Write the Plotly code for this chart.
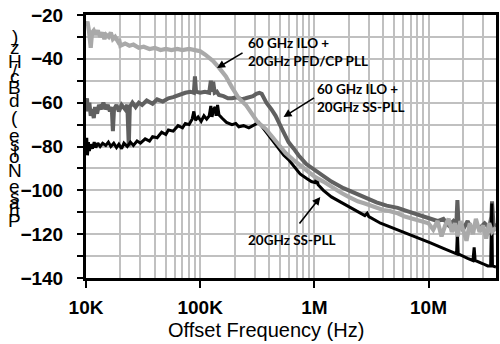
import plotly.graph_objects as go

# ---- data ----
freq_cp = [1.0e4, 1.03e4, 1.06e4, 1.08e4, 1.1e4, 1.13e4, 1.17e4, 1.22e4, 1.27e4, 1.33e4, 1.4e4, 1.45e4,
           1.5e4, 1.58e4, 1.65e4, 1.72e4, 1.8e4, 1.9e4, 1.95e4, 2.0e4, 2.2e4, 2.4e4, 2.6e4, 2.9e4, 3.2e4,
           3.6e4, 4e4, 4.5e4, 5e4, 5.6e4, 6.3e4, 7e4, 8e4, 9e4, 1.0e5, 1.1e5, 1.2e5, 1.3e5, 1.46e5, 1.68e5,
           1.9e5, 2.18e5, 2.51e5, 2.8e5, 3.2e5, 3.75e5, 4.2e5, 4.8e5, 5.6e5, 6.5e5, 7.3e5, 8.3e5, 9.4e5,
           1.02e6, 1.2e6, 1.41e6, 1.7e6, 2.0e6, 2.4e6, 2.77e6, 3.3e6, 4e6, 4.6e6, 5.37e6, 6.2e6, 7.2e6,
           8.5e6, 1.0e7, 1.1e7, 1.2e7, 1.3e7, 1.4e7, 1.5e7, 1.6e7, 1.7e7, 1.8e7, 1.9e7, 2.0e7, 2.15e7,
           2.3e7, 2.45e7, 2.6e7, 2.8e7, 3.0e7, 3.2e7, 3.4e7, 3.6e7, 3.9e7]
pn_cp = [-25, -23, -27, -34, -35, -28, -27, -29, -27, -30, -28, -31,
         -29, -30, -28, -31, -30, -32, -31, -34, -33, -34, -33.5, -35, -34.5,
         -35.5, -35, -36, -35.5, -36, -35.5, -36, -35.5, -36, -36.5, -38, -39.5, -41, -44, -48,
         -53, -58, -61, -65, -69, -72, -75, -79, -83, -86, -88, -90, -92,
         -94, -96, -98.5, -101, -103, -105, -106, -107.5, -109, -109.5, -110.5, -112, -113,
         -114, -115, -118, -114, -121, -116, -113, -119, -115, -121, -114, -118, -123,
         -115, -120, -113, -119, -116, -122, -115, -119, -117]

freq_ilo_ss = [1.0e4, 1.02e4, 1.04e4, 1.07e4, 1.1e4, 1.13e4, 1.17e4, 1.2e4, 1.25e4, 1.3e4, 1.36e4, 1.42e4,
               1.48e4, 1.55e4, 1.62e4, 1.68e4, 1.72e4, 1.76e4, 1.85e4, 1.94e4, 2.05e4, 2.2e4, 2.3e4, 2.37e4,
               2.42e4, 2.55e4, 2.72e4, 2.9e4, 3.1e4, 3.4e4, 3.83e4, 4.2e4, 4.7e4, 5.27e4, 5.8e4, 6.4e4,
               7.41e4, 8.2e4, 8.8e4, 9.0e4, 9.2e4, 1.0e5, 1.1e5, 1.2e5, 1.24e5, 1.27e5, 1.3e5, 1.34e5, 1.4e5,
               1.46e5, 1.6e5, 1.75e5, 1.9e5, 2.1e5, 2.3e5, 2.5e5, 2.67e5, 2.9e5, 3.1e5, 3.3e5, 3.46e5,
               3.8e5, 4.2e5, 4.58e5, 5.2e5, 5.94e5, 6.6e5, 7.26e5, 8.5e5, 1.02e6, 1.2e6, 1.41e6, 1.8e6,
               2.2e6, 2.77e6, 3.5e6, 4.3e6, 5.37e6, 6.5e6, 8e6, 1.04e7, 1.2e7, 1.35e7, 1.5e7, 1.65e7,
               1.75e7, 1.79e7, 1.83e7, 2.0e7, 2.2e7, 2.4e7, 2.6e7, 2.83e7, 3.1e7, 3.4e7, 3.55e7, 3.6e7,
               3.7e7, 3.9e7]
pn_ilo_ss = [-62, -58, -64, -60, -66, -63, -67, -62, -65, -61, -63, -60,
             -63, -61, -64, -62, -73, -63, -61, -64, -61, -63, -61, -80,
             -62, -60, -62, -60, -61, -59, -60.5, -58.5, -59.5, -58, -57.5, -56.5,
             -55.5, -55, -55.5, -48, -55, -55.5, -55, -55.5, -50, -55, -50.5, -55.5, -55,
             -56.5, -57, -58, -58, -57.5, -58.5, -58, -57.5, -57, -56, -55.5, -56,
             -60, -63, -66, -72, -78, -81, -84, -88, -91, -93.5, -96, -99,
             -101, -103, -105.5, -107, -108, -109.5, -111, -112.5, -114, -113, -116, -114,
             -116, -104.5, -115, -118, -114, -118, -116, -117, -115, -117, -112, -105,
             -115, -117]

freq_ss = [1.0e4, 1.015e4, 1.03e4, 1.05e4, 1.07e4, 1.1e4, 1.14e4, 1.18e4, 1.22e4, 1.27e4, 1.33e4, 1.4e4,
           1.49e4, 1.57e4, 1.65e4, 1.75e4, 1.85e4, 1.94e4, 2.05e4, 2.15e4, 2.3e4, 2.45e4, 2.6e4, 2.8e4,
           3.0e4, 3.3e4, 3.6e4, 3.83e4, 4.2e4, 4.6e4, 5.0e4, 5.27e4, 5.8e4, 6.4e4, 7.0e4, 7.41e4, 8.0e4,
           8.5e4, 8.8e4, 9.1e4, 9.6e4, 1.02e5, 1.08e5, 1.14e5, 1.2e5, 1.24e5, 1.27e5, 1.31e5, 1.35e5,
           1.38e5, 1.42e5, 1.46e5, 1.55e5, 1.7e5, 1.9e5, 2.05e5, 2.18e5, 2.4e5, 2.67e5, 2.9e5, 3.1e5,
           3.26e5, 3.6e5, 3.98e5, 4.4e5, 4.87e5, 5.4e5, 5.94e5, 6.7e5, 7.5e5, 8.5e5, 9.42e5, 1.02e6,
           1.05e6, 1.08e6, 1.2e6, 1.41e6, 1.8e6, 2.2e6, 2.77e6, 2.9e6, 3.0e6, 3.8e6, 5.37e6, 7.5e6,
           1.04e7, 1.35e7, 1.68e7, 1.76e7, 1.79e7, 1.82e7, 2.2e7, 2.45e7, 2.51e7, 2.56e7, 3.0e7, 3.3e7,
           3.5e7, 3.58e7, 3.63e7, 3.9e7]
pn_ss = [-81, -76, -84, -78, -82, -79, -81, -78, -80.5, -78.5, -80, -78.5,
         -79.5, -78, -80, -78.5, -80.5, -79, -81, -78.5, -80, -78, -79.5, -77.5,
         -78.5, -76.5, -77.5, -75.5, -76, -73.5, -74.5, -72.5, -73, -70.5, -71.5, -69.5, -70,
         -67.5, -64, -68, -66.5, -68.5, -66, -67.5, -66, -61.5, -66.5, -63, -62,
         -66, -61, -65.5, -67, -69, -70, -69.5, -71, -70.5, -71.5, -70.5, -69.5,
         -69, -72, -75, -78, -81, -84, -86, -89.5, -92.5, -94.5, -96, -96.5,
         -94, -97.5, -100, -103, -106, -108.5, -111.5, -110.5, -112, -115, -118, -121,
         -124, -126.5, -128.5, -129, -119, -129, -131, -132, -126, -132, -133.5, -134.5,
         -134.5, -106, -134.5, -135]

x_tickvals = [1e4, 1e5, 1e6, 1e7]
x_ticktext = ["10K", "100K", "1M", "10M"]
y_tickvals = [-140, -120, -100, -80, -60, -40, -20]

series_names = ["20GHz SS-PLL", "60 GHz ILO + 20GHz SS-PLL", "60 GHz ILO + 20GHz PFD/CP PLL"]
y_title = "Phase Noise (dBc/Hz)"

# ---- geometry helpers (pixel -> paper) ----
L, R, T, B = 86, 499, 15, 278
def px(x):
    return (x - L) / (R - L)
def py(y):
    return (B - y) / (B - T)

fig = go.Figure()
fig.add_trace(go.Scatter(x=freq_ilo_ss, y=pn_ilo_ss, mode="lines", name=series_names[1],
                         line=dict(color="#606060", width=4)))
fig.add_trace(go.Scatter(x=freq_ss, y=pn_ss, mode="lines", name=series_names[0],
                         line=dict(color="#000000", width=3)))
fig.add_trace(go.Scatter(x=freq_cp, y=pn_cp, mode="lines", name=series_names[2],
                         line=dict(color="#a9a9a9", width=4.2)))

grid = "#c0c0c0"
fig.update_xaxes(type="log", range=[4, 7.591], tickvals=x_tickvals, ticktext=x_ticktext,
                 showgrid=True, gridcolor=grid, gridwidth=2,
                 minor=dict(dtick="D1", showgrid=True, gridcolor=grid, gridwidth=1.5, ticks=""),
                 showline=True, linecolor="black", linewidth=3, mirror=True,
                 ticks="outside", ticklen=7, tickwidth=2, tickcolor="black",
                 ticklabelstandoff=3,
                 tickfont=dict(family="Arial, Liberation Sans", size=19, color="black", weight="bold"),
                 zeroline=False)
fig.update_yaxes(range=[-140, -20], tickvals=y_tickvals,
                 showgrid=True, gridcolor=grid, gridwidth=2,
                 minor=dict(dtick=10, showgrid=True, gridcolor=grid, gridwidth=2,
                            ticks="outside", ticklen=6, tickwidth=2, tickcolor="black"),
                 showline=True, linecolor="black", linewidth=3, mirror=True,
                 ticks="outside", ticklen=6, tickwidth=2, tickcolor="black",
                 ticklabelstandoff=10,
                 tickfont=dict(family="Arial, Liberation Sans", size=19, color="black", weight="bold"),
                 zeroline=False)

ann_font = dict(family="Lato, Open Sans", size=13.5, color="black", weight="bold")
annotations = [
    dict(text="60 GHz ILO +<br>20GHz PFD/CP PLL", x=px(247), y=py(52), xanchor="left", yanchor="middle",
         align="left", font=ann_font),
    dict(text="60 GHz ILO +<br>20GHz SS-PLL", x=px(317), y=py(98), xanchor="left", yanchor="middle",
         align="left", font=ann_font),
    dict(text="20GHz SS-PLL", x=px(247), y=py(240), xanchor="left", yanchor="middle",
         align="left", font=ann_font),
    # arrows
    dict(text="", x=px(218), y=py(68), ax=27, ay=-16, showarrow=True, arrowhead=2, arrowsize=1,
         arrowwidth=1.6, arrowcolor="black"),
    dict(text="", x=px(285), y=py(117), ax=32, ay=-20, showarrow=True, arrowhead=2, arrowsize=1,
         arrowwidth=1.6, arrowcolor="black"),
    dict(text="", x=px(322), y=py(197), ax=-22, ay=28, showarrow=True, arrowhead=2, arrowsize=1,
         arrowwidth=1.6, arrowcolor="black"),
    # x title
    dict(text="Offset Frequency (Hz)", x=px(267.5), y=py(330), xanchor="center", yanchor="middle",
         font=dict(family="Arial, Liberation Sans", size=20, color="black")),
]
# y title: upright glyphs stacked bottom-to-top
char_y = [220, 210, 202, 196, 186, 178, 170, 156, 150, 144, 135, 126, 117, 100, 87, 76, 70, 61, 48, 36]
for ch, yy in zip(y_title, char_y):
    if ch == " ":
        continue
    annotations.append(dict(text=ch, x=px(14), y=py(yy), xanchor="center", yanchor="middle",
                            font=dict(family="Arial, Liberation Sans", size=19, color="black")))
for a in annotations:
    a.setdefault("xref", "paper")
    a.setdefault("yref", "paper")
    a.setdefault("showarrow", False)

fig.update_layout(width=500, height=344, autosize=False,
                  margin=dict(l=L, r=500 - R, t=T, b=344 - B),
                  plot_bgcolor="white", paper_bgcolor="white", showlegend=False,
                  annotations=annotations)
fig.write_html("out.html", config={"displayModeBar": False},
               post_script="document.body.style.margin='0';document.body.style.overflow='hidden';")
